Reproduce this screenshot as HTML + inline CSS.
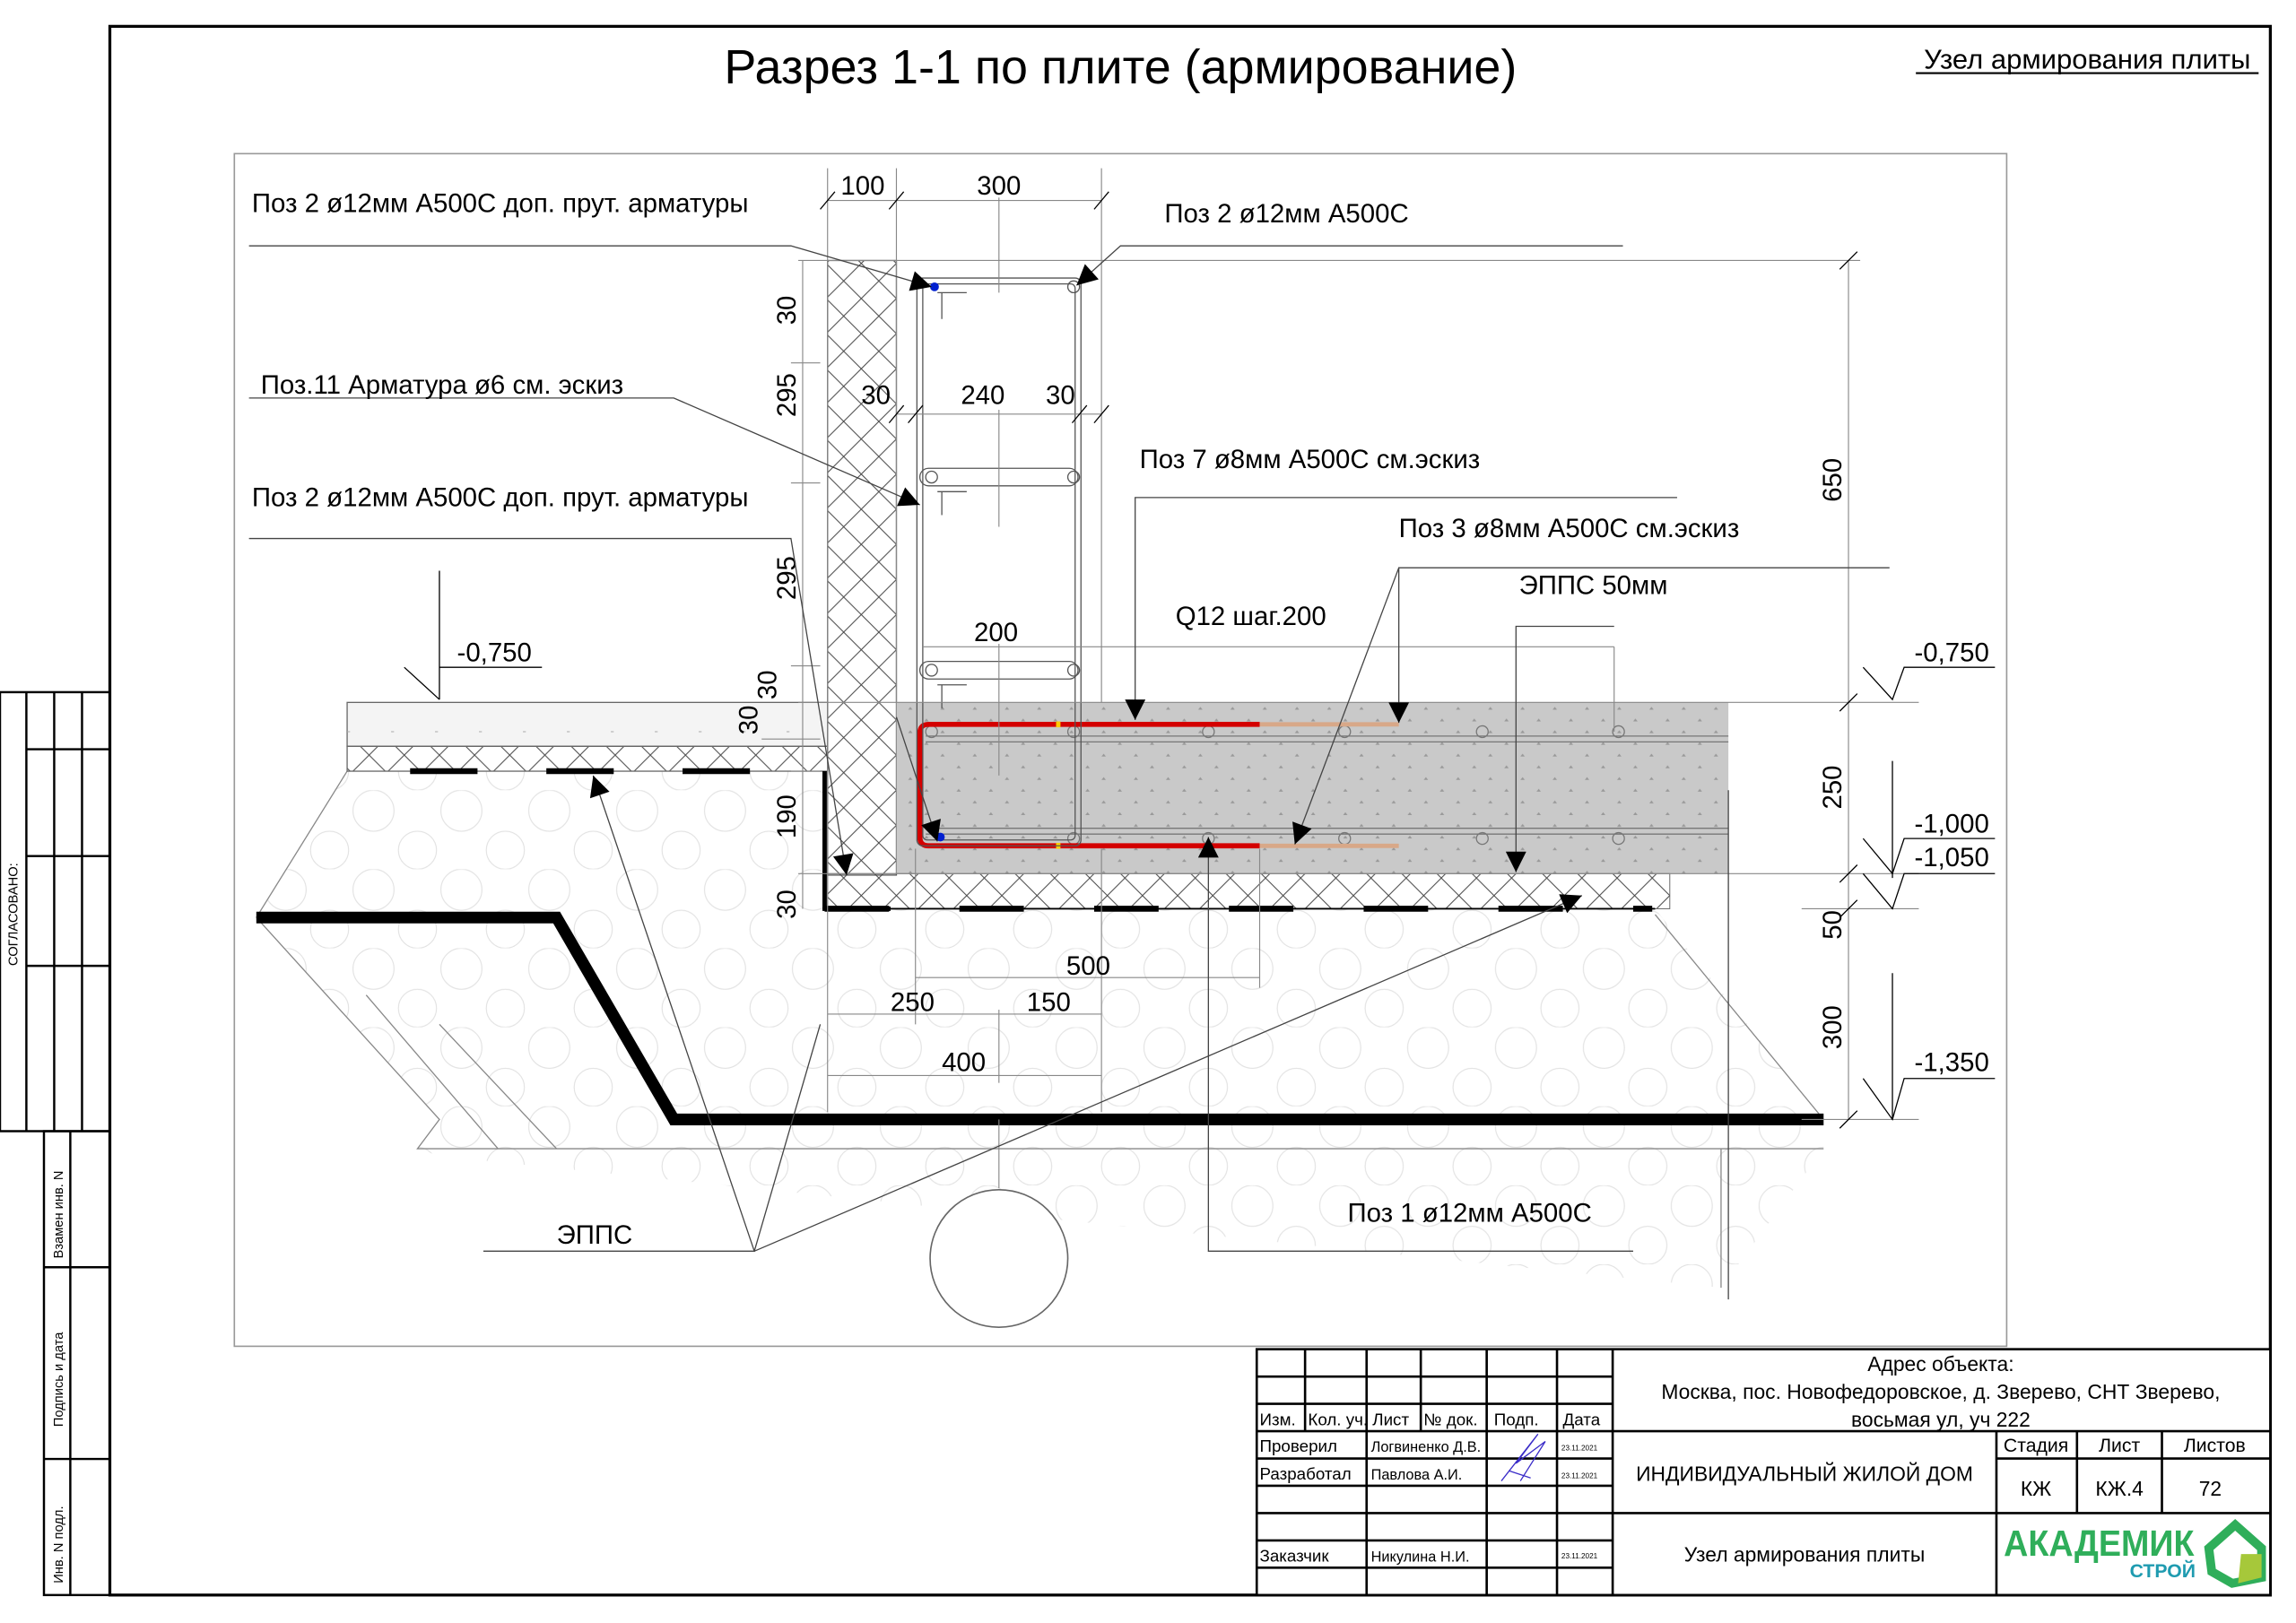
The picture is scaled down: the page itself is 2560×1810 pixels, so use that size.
<!DOCTYPE html>
<html><head><meta charset="utf-8"><style>
html,body{margin:0;padding:0;background:#fff;}
svg{display:block;}
text{font-family:"Liberation Sans Narrow","Liberation Sans","DejaVu Sans",sans-serif;fill:#000;}
</style></head><body>
<svg width="2560" height="1810" viewBox="0 0 1560 1103" preserveAspectRatio="none" xmlns="http://www.w3.org/2000/svg">
<defs>
<pattern id="xh" width="24" height="24" patternUnits="userSpaceOnUse">
<path d="M0 0L24 24M24 0L0 24" stroke="#444" stroke-width="0.6"/>
</pattern>
<pattern id="gr" width="60" height="54" patternUnits="userSpaceOnUse">
<circle cx="15" cy="14" r="14" fill="none" stroke="#e2e2e2" stroke-width="0.7"/>
<circle cx="45" cy="41" r="13" fill="none" stroke="#e2e2e2" stroke-width="0.7"/>
</pattern>
<pattern id="cd" width="22" height="16" patternUnits="userSpaceOnUse">
<rect width="22" height="16" fill="#c9c9c9"/>
<path d="M4 5l1.5-2 1.5 2z M15 13l1.5-2 1.5 2z" fill="#999"/>
</pattern>
<marker id="ar" viewBox="0 0 10 10" refX="10" refY="5" markerWidth="24" markerHeight="14" markerUnits="userSpaceOnUse" orient="auto">
<path d="M0 0L10 5L0 10z" fill="#000"/>
</marker>
</defs>
<g transform="scale(0.9952 0.9945)">
<rect x="75" y="18" width="1475" height="1072" fill="none" stroke="#000" stroke-width="2"/>
<g stroke="#000" stroke-width="1.5" fill="none">
<rect x="0" y="473" width="75" height="300"/>
<line x1="18" y1="473" x2="18" y2="773"/><line x1="37" y1="473" x2="37" y2="773"/><line x1="56" y1="473" x2="56" y2="773"/>
<line x1="18" y1="512" x2="75" y2="512"/><line x1="18" y1="585" x2="75" y2="585"/><line x1="18" y1="660" x2="75" y2="660"/>
<rect x="30" y="773" width="45" height="317"/>
<line x1="48" y1="773" x2="48" y2="1090"/>
<line x1="30" y1="866" x2="75" y2="866"/><line x1="30" y1="997" x2="75" y2="997"/>
</g>
<g font-size="9">
<text transform="translate(12,660) rotate(-90)">СОГЛАСОВАНО:</text>
<text transform="translate(43,860) rotate(-90)">Взамен инв. N</text>
<text transform="translate(43,975) rotate(-90)">Подпись и дата</text>
<text transform="translate(43,1082) rotate(-90)">Инв. N подл.</text>
</g>

<text x="765" y="57" font-size="33" text-anchor="middle">Разрез 1-1 по плите (армирование)</text>
<text x="1425" y="47" font-size="19" text-anchor="middle">Узел армирования плиты</text>
<line x1="1308" y1="50" x2="1542" y2="50" stroke="#000" stroke-width="1.3"/>

<rect x="160" y="105" width="1210" height="815" fill="none" stroke="#999" stroke-width="1"/>

<polygon points="237,527 565,527 565,621 1130,621 1245,765 1245,785 1175,880 300,790 285,785 300,765 175,627" fill="url(#gr)"/>
<g stroke="#888" stroke-width="0.8" fill="none">
<polyline points="237,527 175,627"/>
<polyline points="175,627 300,765 285,785 1245,785"/>
<polyline points="1130,625 1245,765"/>
<line x1="1175" y1="785" x2="1175" y2="880"/>
<line x1="300" y1="700" x2="380" y2="785"/>
<line x1="250" y1="680" x2="340" y2="785"/>
</g>

<rect x="237" y="480" width="328" height="30" fill="#f4f4f4" stroke="#666" stroke-width="0.8"/>
<rect x="237" y="510" width="328" height="17" fill="url(#xh)" stroke="#666" stroke-width="0.8"/>
<line x1="280" y1="527" x2="512" y2="527" stroke="#000" stroke-width="4" stroke-dasharray="46 47"/>
<line x1="237" y1="500" x2="565" y2="500" stroke="#aaa" stroke-width="0.6" stroke-dasharray="2 28"/>

<rect x="565" y="178" width="47" height="420" fill="url(#xh)" stroke="#555" stroke-width="0.8"/>

<rect x="612" y="480" width="568" height="117" fill="url(#cd)"/>
<rect x="565" y="597" width="575" height="24" fill="url(#xh)" stroke="#666" stroke-width="0.6"/>
<polyline points="563,527 563,621 608,621" fill="none" stroke="#000" stroke-width="3"/>
<line x1="565" y1="621" x2="1130" y2="621" stroke="#000" stroke-width="1.2"/>
<line x1="563" y1="621" x2="1128" y2="621" stroke="#000" stroke-width="4" stroke-dasharray="44 48"/>

<g stroke="#777" stroke-width="0.8" fill="none">
<line x1="632" y1="503" x2="1180" y2="503"/><line x1="632" y1="507" x2="1180" y2="507"/>
<line x1="632" y1="566" x2="1180" y2="566"/><line x1="632" y1="570" x2="1180" y2="570"/>
<circle cx="636" cy="500" r="4"/><circle cx="733" cy="500" r="4"/><circle cx="825" cy="500" r="4"/><circle cx="918" cy="500" r="4"/><circle cx="1012" cy="500" r="4"/><circle cx="1105" cy="500" r="4"/>
<circle cx="733" cy="573" r="4"/><circle cx="825" cy="573" r="4"/><circle cx="918" cy="573" r="4"/><circle cx="1012" cy="573" r="4"/><circle cx="1105" cy="573" r="4"/>
</g>
<path d="M860 495 L634 495 Q628 495 628 501 L628 572 Q628 578 634 578 L860 578" fill="none" stroke="#d40000" stroke-width="3.5"/>
<line x1="860" y1="495" x2="955" y2="495" stroke="#d8a888" stroke-width="3"/>
<line x1="860" y1="578" x2="955" y2="578" stroke="#d8a888" stroke-width="3"/>
<rect x="721" y="493" width="3" height="4" fill="#ffcc00"/><rect x="721" y="576" width="3" height="4" fill="#ffcc00"/>

<g stroke="#555" stroke-width="0.8" fill="none">
<rect x="626" y="190" width="112" height="388" rx="4"/>
<rect x="630" y="194" width="104" height="380" rx="3"/>
<rect x="628" y="320" width="108" height="12" rx="6"/>
<rect x="628" y="452" width="108" height="12" rx="6"/>
<line x1="640" y1="200" x2="660" y2="200"/><line x1="643" y1="200" x2="643" y2="218"/>
<line x1="640" y1="336" x2="660" y2="336"/><line x1="643" y1="336" x2="643" y2="352"/>
<line x1="640" y1="468" x2="660" y2="468"/><line x1="643" y1="468" x2="643" y2="484"/>
<circle cx="733" cy="196" r="4"/><circle cx="636" cy="326" r="4"/><circle cx="733" cy="326" r="4"/><circle cx="636" cy="458" r="4"/><circle cx="733" cy="458" r="4"/>
</g>
<circle cx="638" cy="196" r="3" fill="#0020d0"/>
<circle cx="642" cy="572" r="3" fill="#0020d0"/>

<polyline points="175,627 380,627 460,765 1245,765" fill="none" stroke="#000" stroke-width="8"/>
<circle cx="682" cy="860" r="47" fill="#fff" stroke="#666" stroke-width="1"/>
<line x1="682" y1="765" x2="682" y2="812" stroke="#888" stroke-width="0.7"/>

<g stroke="#888" stroke-width="0.7" fill="none">
<line x1="565" y1="115" x2="565" y2="760"/><line x1="612" y1="115" x2="612" y2="480"/>
<line x1="752" y1="115" x2="752" y2="480"/><line x1="682" y1="135" x2="682" y2="200"/>
<line x1="682" y1="280" x2="682" y2="360"/><line x1="682" y1="440" x2="682" y2="530"/>
<line x1="625" y1="580" x2="625" y2="700"/><line x1="860" y1="580" x2="860" y2="675"/>
<line x1="752" y1="580" x2="752" y2="760"/><line x1="682" y1="690" x2="682" y2="740"/>
<line x1="545" y1="178" x2="1270" y2="178"/>
<line x1="545" y1="480" x2="1310" y2="480"/><line x1="545" y1="597" x2="1310" y2="597"/>
<line x1="1262" y1="178" x2="1262" y2="765"/>
<line x1="1230" y1="765" x2="1310" y2="765"/><line x1="1230" y1="621" x2="1310" y2="621"/>
<line x1="548" y1="178" x2="548" y2="621"/>
<line x1="540" y1="248" x2="560" y2="248"/><line x1="540" y1="330" x2="560" y2="330"/><line x1="540" y1="455" x2="560" y2="455"/><line x1="520" y1="505" x2="560" y2="505"/><line x1="540" y1="527" x2="560" y2="527"/>
<line x1="565" y1="137" x2="752" y2="137"/>
<line x1="612" y1="283" x2="752" y2="283"/>
<line x1="625" y1="668" x2="860" y2="668"/>
<line x1="565" y1="693" x2="752" y2="693"/>
<line x1="565" y1="735" x2="752" y2="735"/>
<line x1="630" y1="442" x2="1102" y2="442"/>
<line x1="1102" y1="442" x2="1102" y2="500"/>
</g>
<g stroke="#000" stroke-width="0.8">
<line x1="560" y1="143" x2="570" y2="131"/><line x1="607" y1="143" x2="617" y2="131"/><line x1="747" y1="143" x2="757" y2="131"/>
<line x1="607" y1="289" x2="617" y2="277"/><line x1="620" y1="289" x2="630" y2="277"/><line x1="732" y1="289" x2="742" y2="277"/><line x1="747" y1="289" x2="757" y2="277"/>
<line x1="1256" y1="184" x2="1268" y2="172"/><line x1="1256" y1="486" x2="1268" y2="474"/><line x1="1256" y1="603" x2="1268" y2="591"/><line x1="1256" y1="627" x2="1268" y2="615"/><line x1="1256" y1="771" x2="1268" y2="759"/>
</g>

<g font-size="18" text-anchor="middle">
<text x="589" y="133">100</text><text x="682" y="133">300</text>
<text x="598" y="276">30</text><text x="671" y="276">240</text><text x="724" y="276">30</text>
<text x="680" y="438">200</text>
<text x="743" y="666">500</text><text x="623" y="691">250</text><text x="716" y="691">150</text><text x="658" y="732">400</text>
<text x="854" y="427">Q12 шаг.200</text>
<text transform="translate(543,212) rotate(-90)">30</text>
<text transform="translate(543,270) rotate(-90)">295</text>
<text transform="translate(543,395) rotate(-90)">295</text>
<text transform="translate(530,468) rotate(-90)">30</text>
<text transform="translate(517,492) rotate(-90)">30</text>
<text transform="translate(543,558) rotate(-90)">190</text>
<text transform="translate(543,618) rotate(-90)">30</text>
<text transform="translate(1257,328) rotate(-90)">650</text>
<text transform="translate(1257,538) rotate(-90)">250</text>
<text transform="translate(1257,632) rotate(-90)">50</text>
<text transform="translate(1257,702) rotate(-90)">300</text>
</g>

<g stroke="#000" stroke-width="0.8" fill="none">
<line x1="300" y1="390" x2="300" y2="478"/>
<line x1="276" y1="456" x2="300" y2="478"/>
<line x1="300" y1="456" x2="370" y2="456"/>
<polyline points="1272,456 1292,478 1300,456 1362,456"/>
<polyline points="1272,573 1292,597 1300,573 1362,573"/>
<polyline points="1272,597 1292,621 1300,597 1362,597"/>
<polyline points="1272,737 1292,765 1300,737 1362,737"/>
<line x1="1292" y1="520" x2="1292" y2="600"/><line x1="1292" y1="665" x2="1292" y2="765"/>
</g>
<g font-size="18">
<text x="312" y="452">-0,750</text>
<text x="1307" y="452">-0,750</text>
<text x="1307" y="569">-1,000</text>
<text x="1307" y="592">-1,050</text>
<text x="1307" y="732">-1,350</text>
</g>

<g stroke="#444" stroke-width="0.8" fill="none">
<polyline points="170,168 540,168 636,196" marker-end="url(#ar)"/>
<polyline points="1108,168 765,168 735,195" marker-end="url(#ar)"/>
<polyline points="170,272 460,272 628,345" marker-end="url(#ar)"/>
<polyline points="170,368 540,368 578,598" marker-end="url(#ar)"/>
<polyline points="1145,340 775,340 775,492" marker-end="url(#ar)"/>
<polyline points="1290,388 955,388 955,494" marker-end="url(#ar)"/>
<polyline points="955,388 884,577" marker-end="url(#ar)"/>
<polyline points="1180,540 1180,888"/>
<polyline points="1102,428 1035,428 1035,596" marker-end="url(#ar)"/>
<polyline points="1115,855 825,855 825,572" marker-end="url(#ar)"/>
<polyline points="330,855 515,855 405,530" marker-end="url(#ar)"/>
<polyline points="515,855 1080,612" marker-end="url(#ar)"/>
<polyline points="515,855 560,700"/>
<polyline points="612,490 640,575" marker-end="url(#ar)"/>
</g>
<g font-size="18">
<text x="172" y="145">Поз 2 ø12мм А500С доп. прут. арматуры</text>
<text x="795" y="152">Поз 2 ø12мм А500С</text>
<text x="178" y="269">Поз.11 Арматура ø6 см. эскиз</text>
<text x="172" y="346">Поз 2 ø12мм А500С доп. прут. арматуры</text>
<text x="778" y="320">Поз 7 ø8мм А500С см.эскиз</text>
<text x="955" y="367">Поз 3 ø8мм А500С см.эскиз</text>
<text x="1037" y="406">ЭППС 50мм</text>
<text x="920" y="835">Поз 1 ø12мм А500С</text>
<text x="380" y="850">ЭППС</text>
</g>

<rect x="858" y="922" width="692" height="168" fill="#fff"/>
<g stroke="#000" stroke-width="1.6" fill="none">
<rect x="858" y="922" width="692" height="168"/>
<line x1="1101" y1="922" x2="1101" y2="1090"/>
<line x1="858" y1="940.7" x2="1101" y2="940.7"/>
<line x1="858" y1="959.3" x2="1101" y2="959.3"/>
<line x1="858" y1="978" x2="1550" y2="978"/>
<line x1="858" y1="996.7" x2="1101" y2="996.7"/>
<line x1="858" y1="1015.3" x2="1101" y2="1015.3"/>
<line x1="858" y1="1034" x2="1550" y2="1034"/>
<line x1="858" y1="1052.7" x2="1101" y2="1052.7"/>
<line x1="858" y1="1071.3" x2="1101" y2="1071.3"/>
<line x1="891" y1="922" x2="891" y2="978"/>
<line x1="970" y1="922" x2="970" y2="978"/>
<line x1="933" y1="922" x2="933" y2="1090"/>
<line x1="1015" y1="922" x2="1015" y2="1090"/>
<line x1="1063" y1="922" x2="1063" y2="1090"/>
<line x1="1363" y1="978" x2="1363" y2="1090"/>
<line x1="1418" y1="978" x2="1418" y2="1034"/>
<line x1="1476" y1="978" x2="1476" y2="1034"/>
<line x1="1363" y1="996.7" x2="1550" y2="996.7"/>
</g>
<g font-size="11.5">
<text x="860" y="974">Изм.</text><text x="893" y="974">Кол. уч.</text><text x="937" y="974">Лист</text><text x="972" y="974">№ док.</text><text x="1020" y="974">Подп.</text><text x="1067" y="974">Дата</text>
<text x="860" y="992">Проверил</text><text x="936" y="992" font-size="10">Логвиненко Д.В.</text>
<text x="860" y="1011">Разработал</text><text x="936" y="1011" font-size="10">Павлова А.И.</text>
<text x="860" y="1067">Заказчик</text><text x="936" y="1067" font-size="10">Никулина Н.И.</text>
<text x="1066" y="991" font-size="5">23.11.2021</text><text x="1066" y="1010" font-size="5">23.11.2021</text><text x="1066" y="1065" font-size="5">23.11.2021</text>
</g>
<path d="M1025 1012 L1050 980 L1035 1000 L1055 985 L1038 1012 M1030 1005 L1045 1010" stroke="#3a2cc8" stroke-width="0.8" fill="none"/>
<g font-size="14" text-anchor="middle">
<text x="1325" y="937">Адрес объекта:</text>
<text x="1325" y="956">Москва, пос. Новофедоровское, д. Зверево, СНТ Зверево,</text>
<text x="1325" y="975">восьмая ул, уч 222</text>
<text x="1232" y="1012">ИНДИВИДУАЛЬНЫЙ ЖИЛОЙ ДОМ</text>
<text x="1232" y="1067">Узел армирования плиты</text>
<text x="1390" y="992" font-size="13">Стадия</text><text x="1447" y="992" font-size="13">Лист</text><text x="1512" y="992" font-size="13">Листов</text>
<text x="1390" y="1022">КЖ</text><text x="1447" y="1022">КЖ.4</text><text x="1509" y="1022">72</text>
</g>
<text x="1368" y="1063" font-size="25" font-weight="bold" style="fill:#2fae5a" textLength="130" lengthAdjust="spacingAndGlyphs">АКАДЕМИК</text>
<text x="1454" y="1078" font-size="13" font-weight="bold" style="fill:#1f9bb0">СТРОЙ</text>
<path d="M1508 1058 L1526 1042 L1544 1058 L1544 1078 L1524 1082 L1510 1074 Z" fill="none" stroke="#2fae5a" stroke-width="6"/>
<path d="M1530 1062 L1544 1062 L1544 1078 L1528 1082 Z" fill="#a6c83a"/>
</g>
</svg>
</body></html>
